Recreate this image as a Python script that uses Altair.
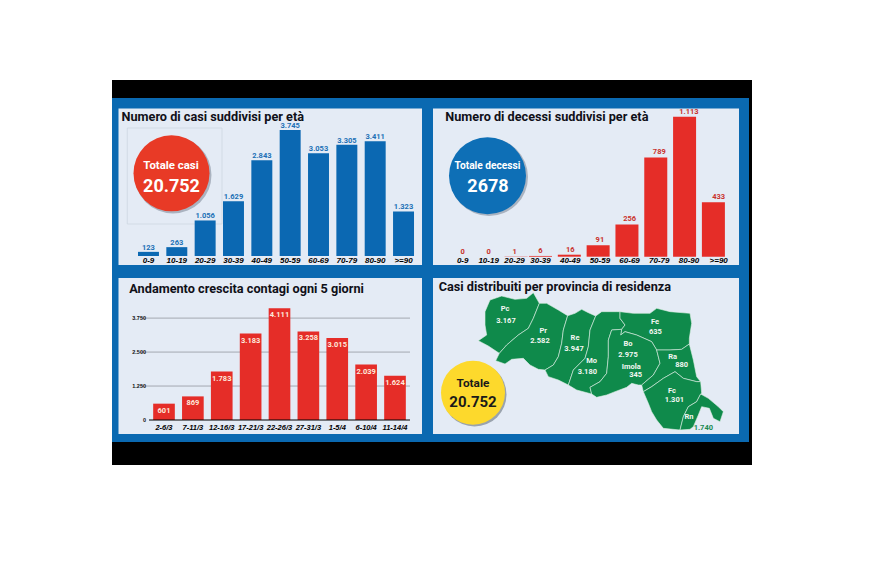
import altair as alt
import pandas as pd

# ---------- data ----------
age_cases = ["0-9", "10-19", "20-29", "30-39", "40-49", "50-59", "60-69", "70-79", "80-90", ">=90"]
cases = [123, 263, 1056, 1629, 2843, 3745, 3053, 3305, 3411, 1323]
deaths = [0, 0, 1, 6, 16, 91, 256, 789, 1113, 433]
periods = ["2-6/3", "7-11/3", "12-16/3", "17-21/3", "22-26/3", "27-31/3", "1-5/4", "6-10/4", "11-14/4"]
growth = [601, 869, 1783, 3183, 4111, 3258, 3015, 2039, 1624]
grid_values = [0, 1250, 2500, 3750]

pc_pr = [(328, 100), (310, 145), (295, 175), (265, 195), (230, 225), (208, 250)]
pr_re = [(413, 137), (400, 180), (395, 220), (385, 260), (370, 285), (345, 300)]
re_mo = [(497, 138), (480, 180), (475, 230), (465, 265), (430, 300), (415, 345)]
mo_fe = [(570, 125), (570, 145), (585, 165), (575, 178)]
mo_bo = [(575, 178), (545, 180), (535, 210), (535, 260), (530, 310), (510, 335), (480, 352), (485, 372)]
fe_bo = [(575, 178), (572, 195), (585, 185), (620, 195), (665, 215), (680, 240)]
fe_ra = [(680, 240), (720, 240), (755, 238), (778, 222)]
bo_ra = [(680, 240), (690, 280), (670, 315), (635, 345)]
ra_fc = [(640, 365), (665, 350), (700, 325), (735, 305), (760, 325), (800, 335), (812, 335)]
fc_rn = [(812, 372), (800, 395), (775, 410), (760, 440), (750, 480)]

provinces = {
    "Pc": [(165, 125), (180, 90), (215, 78), (255, 88), (290, 85), (310, 68)] + pc_pr
          + [(175, 228), (145, 212), (170, 195), (165, 165)],
    "Pr": [(350, 100), (385, 120)] + pr_re
          + [(325, 298), (300, 285), (280, 265), (245, 268), (225, 282), (197, 272)] + pc_pr[::-1],
    "Re": [(435, 130), (455, 118), (475, 128)] + re_mo + [(385, 330), (355, 320)] + pr_re[::-1],
    "Mo": [(515, 125), (560, 125)] + mo_fe + mo_bo[1:] + [(440, 360)] + re_mo[::-1],
    "Fe": mo_fe + fe_bo[1:] + fe_ra[1:] + [(778, 205), (785, 160), (780, 130), (720, 125), (680, 115),
                                            (660, 130), (610, 130)],
    "Bo": fe_bo + bo_ra[1:] + [(625, 345), (605, 340), (590, 352), (555, 365), (530, 375), (500, 382)]
          + mo_bo[::-1][:-1],
    "Ra": fe_ra + [(790, 270), (800, 320)] + ra_fc[::-1] + bo_ra[::-1],
    "Fc": ra_fc + [(815, 370)] + fc_rn + [(700, 475), (680, 450), (665, 425), (655, 400)],
    "Rn": fc_rn + [(780, 478), (790, 470), (805, 435), (815, 410), (838, 415), (850, 445), (870, 455),
                   (880, 425), (865, 410), (835, 385)],
}

map_labels = ["Pc", "3.167", "Pr", "2.582", "Re", "3.947", "Mo", "3.180", "Fe", "635", "Bo", "2.975",
              "Imola", "345", "Ra", "880", "Fc", "1.301", "Rn", "1.740"]
map_label_x = [225, 228, 340, 330, 435, 432, 485, 472, 675, 676, 594, 594, 604, 617, 728, 755, 726, 733, 777, 820]
map_label_y = [118, 152, 183, 212, 205, 236, 274, 306, 156, 185, 222, 254, 291, 316, 262, 286, 363, 390, 441, 473]
map_label_color = ["w"] * 19 + ["g"]

# ---------- style ----------
BLACK = "#000000"
FRAME = "#0a69b1"
PANEL = "#e4ebf5"
BLUE = "#0b68b2"
RED = "#e52d28"
GREEN = "#0f8a4b"
SANS = "Roboto"
TICK = "Liberation Sans"
OFF = 8  # page margin
TITLE = 12.7

one = pd.DataFrame({"k": [0]})


def px(v):
    return alt.value(v - OFF)


def box(x0, y0, x1, y1, **kw):
    return alt.Chart(one).mark_rect(**kw).encode(x=px(x0), x2=px(x1), y=px(y0), y2=px(y1))


def label(text, x, y, size, color="#ffffff", weight="bold", font=SANS, align="center", baseline="middle"):
    return alt.Chart(pd.DataFrame({"t": [text]})).mark_text(
        font=font, fontSize=size, fontWeight=weight, color=color, align=align, baseline=baseline
    ).encode(x=px(x), y=px(y), text="t:N")


def disc(x, y, r, color, opacity=1):
    return alt.Chart(one).mark_point(filled=True, shape="circle", size=4 * r * r, color=color, opacity=opacity).encode(
        x=px(x), y=px(y)
    )


def it(v):
    return f"{v:,}".replace(",", ".")


layers = []

# frame and panels
layers += [
    box(112, 80, 752, 465, color=BLACK),
    box(112, 98, 749, 442, color=FRAME),
    box(118.5, 108.5, 422, 265, color=PANEL),
    box(433, 108.5, 739, 265, color=PANEL),
    box(118.5, 278, 422, 434, color=PANEL),
    box(433, 278, 739, 434, color=PANEL),
]


# ---------- panel 1 ----------
def band_panel(cats, vals, x_range, y_range, ymax, pad, bar_color):
    df = pd.DataFrame({"c": cats, "v": vals, "t": [it(v) for v in vals]})
    xs = alt.X("c:N", sort=None, axis=None,
               scale=alt.Scale(type="band", domain=cats, range=[x - OFF for x in x_range],
                               paddingInner=pad, paddingOuter=pad / 2))
    ys = alt.Y("v:Q", axis=None, stack=None,
               scale=alt.Scale(domain=[0, ymax], range=[y - OFF for y in y_range]))
    bars = alt.Chart(df).mark_bar(color=bar_color).encode(x=xs, y=ys)
    return df, xs, ys, bars


df1, x1, y1, bars1 = band_panel(age_cases, cases, [134.3, 417.7], [256, 130], 3745, 0.26, BLUE)
layers += [
    box(127.3, 128, 222, 224, fill=PANEL, stroke="#ccd4df", strokeWidth=0.7),
    bars1,
    alt.Chart(df1).mark_text(font=SANS, fontSize=7.5, fontWeight="bold", color="#2070b5", baseline="bottom", dy=0).encode(
        x=x1, y=y1, text="t:N"),
    alt.Chart(df1).mark_text(font=TICK, fontSize=8, fontWeight="bold", fontStyle="italic", color="#000000").encode(
        x=x1, y=px(260.5), text="c:N"),
    label("Numero di casi suddivisi per età", 121.5, 120.5, TITLE, "#101018", align="left", baseline="alphabetic"),
    disc(173, 175, 38.5, "#aab3c0"),
    disc(171.5, 173.3, 38, "#e83a26"),
    label("Totale casi", 171, 165.5, 11.4),
    label("20.752", 171.5, 187, 18),
]

# ---------- panel 2 ----------
df2 = pd.DataFrame({"i": range(len(age_cases)), "c": age_cases, "v": deaths, "t": [str(it(v)) for v in deaths]})
x2s = alt.X("i:Q", axis=None,
            scale=alt.Scale(domain=[0, 3, 9], range=[430 + 98 / 3 - OFF, 430 + 331.5 / 3 - OFF, 430 + 866 / 3 - OFF]))
y2s = alt.Y("v:Q", axis=None, stack=None, scale=alt.Scale(domain=[0, 1113], range=[256.7 - OFF, 116.7 - OFF]))
layers += [
    alt.Chart(df2).mark_bar(color=RED, size=23, orient="vertical").encode(x=x2s, y=y2s),
    alt.Chart(df2).mark_text(font=SANS, fontSize=7.5, fontWeight="bold", color="#c9322c", baseline="bottom", dy=-1).encode(
        x=x2s, y=y2s, text="t:N"),
    alt.Chart(df2).mark_text(font=TICK, fontSize=8, fontWeight="bold", fontStyle="italic", color="#000000").encode(
        x=x2s, y=px(260.5), text="c:N"),
    label("Numero di decessi suddivisi per età", 445.3, 120.5, TITLE, "#101018", align="left", baseline="alphabetic"),
    disc(489, 177, 39, "#aab3c0"),
    disc(487.5, 175.7, 38.5, "#0e6fb6"),
    label("Totale decessi", 487.5, 165.5, 10.2),
    label("2678", 488, 186.5, 18),
]

# ---------- panel 3 ----------
df3, x3, y3, bars3 = band_panel(periods, growth, [149.56, 409.44], [420, 308.3], 4111, 0.25, RED)
dfg = pd.DataFrame({"v": grid_values[1:], "t": [it(v) for v in grid_values[1:]]})
dfg0 = pd.DataFrame({"v": grid_values, "t": [it(v) for v in grid_values]})
yg = alt.Y("v:Q", axis=None, scale=alt.Scale(domain=[0, 4111], range=[420 - OFF, 308.3 - OFF]))
layers += [
    alt.Chart(dfg).mark_rule(color="#a3a8b0", strokeWidth=1).encode(y=yg, x=px(140), x2=px(410)),
    bars3,
    alt.Chart(dfg0[dfg0.v == 0]).mark_rule(color="#000000", strokeWidth=1).encode(y=yg, x=px(149), x2=px(410)),
    alt.Chart(dfg0).mark_text(font=TICK, fontSize=5.5, fontWeight="bold", color="#111111", align="right").encode(
        y=yg, x=px(146), text="t:N"),
    alt.Chart(df3).mark_text(font=SANS, fontSize=7.5, fontWeight="bold", color="#fde9dc", baseline="top", dy=3).encode(
        x=x3, y=y3, text="t:N"),
    alt.Chart(df3).mark_text(font=TICK, fontSize=7.5, fontWeight="bold", fontStyle="italic", color="#000000").encode(
        x=x3, y=px(427.7), text="c:N"),
    label("Andamento crescita contagi ogni 5 giorni", 129.3, 293, TITLE, "#101018", align="left", baseline="alphabetic"),
]

# ---------- panel 4 ----------
features = [
    {"type": "Feature", "properties": {"name": k},
     "geometry": {"type": "Polygon", "coordinates": [[list(p) for p in (v + v[:1])]]}}
    for k, v in provinces.items()
]
geo = alt.Chart(alt.Data(values=features)).mark_geoshape(
    fill=GREEN, stroke="#dff0e6", strokeWidth=0.6, strokeJoin="round"
).project(type="identity", scale=1 / 3, translate=[430 - OFF, 270 - OFF], reflectY=False)

dfm = pd.DataFrame({"t": map_labels, "x": map_label_x, "y": map_label_y, "c": map_label_color})
xm = alt.X("x:Q", axis=None, scale=alt.Scale(domain=[0, 966], range=[430 - OFF, 752 - OFF]))
ym = alt.Y("y:Q", axis=None, scale=alt.Scale(domain=[0, 585], range=[270 - OFF, 465 - OFF]))
layers += [
    geo,
    alt.Chart(dfm).mark_text(font=SANS, fontSize=7.5, fontWeight="bold").encode(
        x=xm, y=ym, text="t:N",
        color=alt.Color("c:N", legend=None, scale=alt.Scale(domain=["w", "g"], range=["#f2f7f2", "#1a8a52"]))),
    label("Casi distribuiti per provincia di residenza", 438.7, 291, TITLE, "#101018", align="left", baseline="alphabetic"),
    disc(474.5, 394.5, 32, "#9aa3ad"),
    disc(473, 392.7, 32, "#fdd92c"),
    label("Totale", 473, 382.5, 11.8, "#1a1a1a"),
    label("20.752", 473, 401.5, 15, "#1a1a1a"),
]

chart = alt.layer(*layers).resolve_scale(x="independent", y="independent", color="independent").properties(
    width=864, height=571, padding=0, autosize=alt.AutoSizeParams(type="none"), background="#ffffff"
).configure_view(stroke=None)

chart.save("out.html", embed_options={"renderer": "svg", "actions": False})
